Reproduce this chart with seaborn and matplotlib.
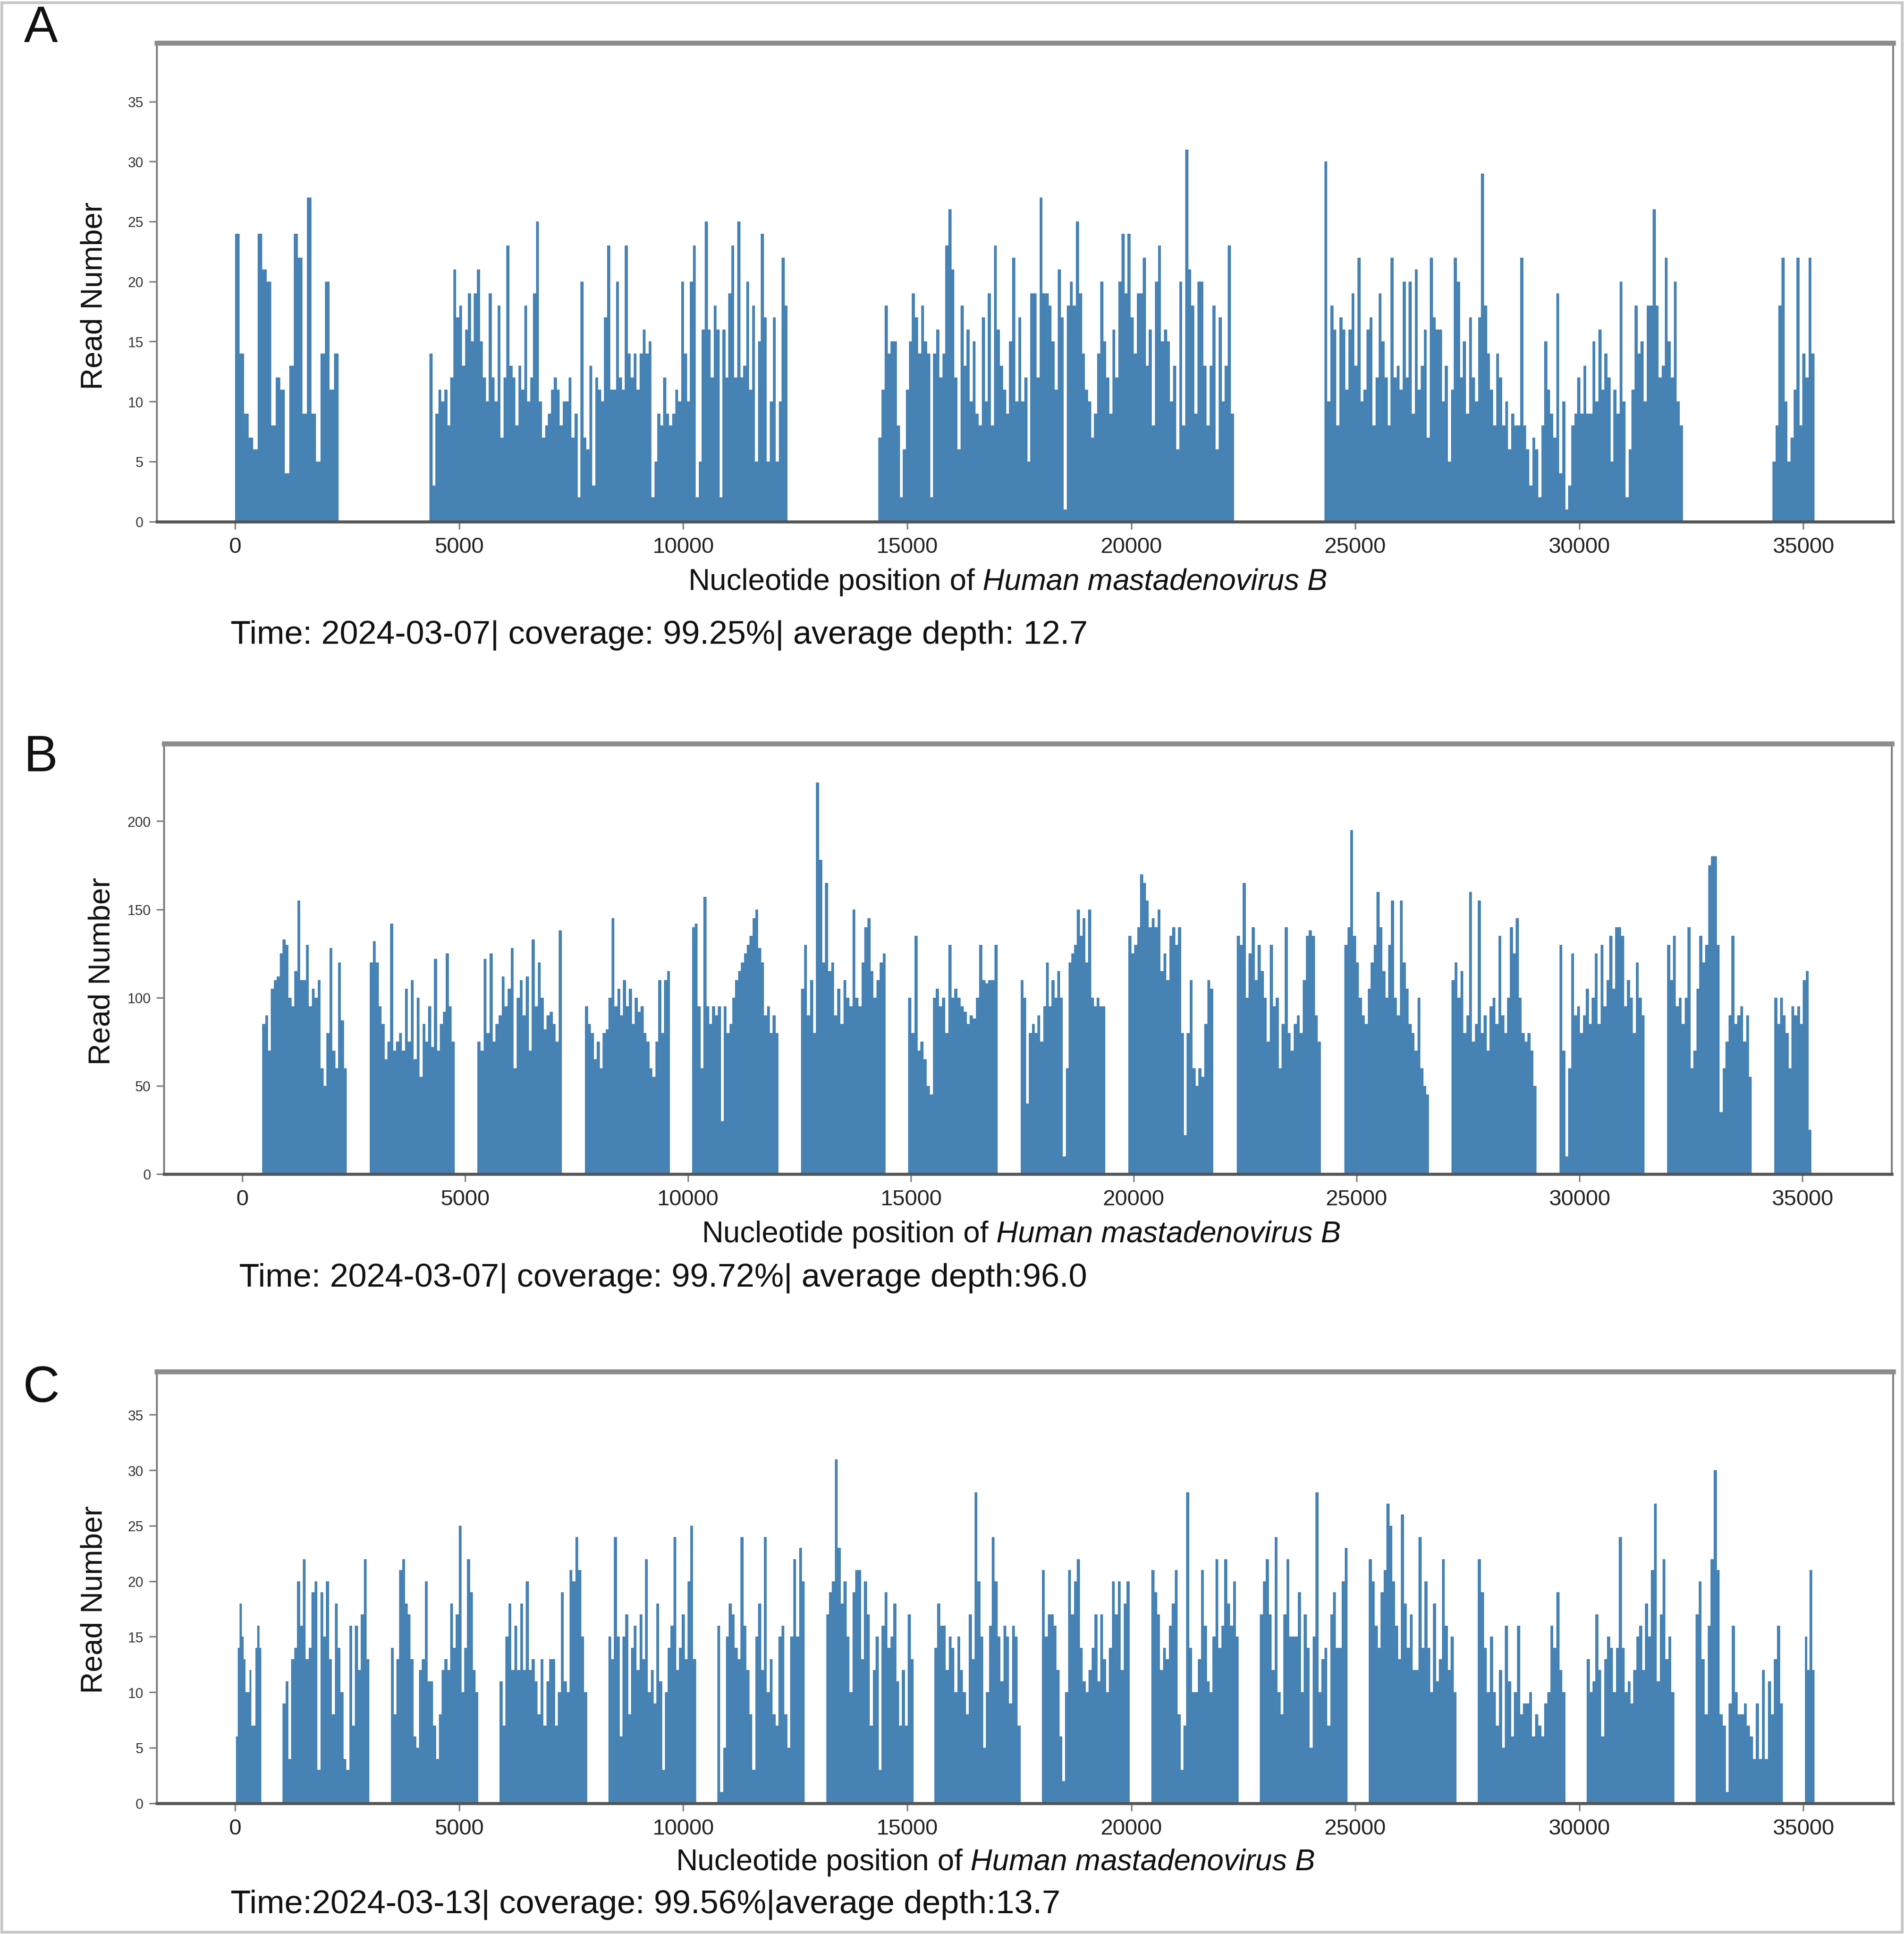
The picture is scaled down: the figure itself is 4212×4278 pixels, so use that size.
import numpy as np
import pandas as pd
import matplotlib
matplotlib.use("Agg")
import matplotlib.pyplot as plt
import matplotlib.patches as patches
import seaborn as sns

# ---- data: amplicon segments (start, end in nt) and read depth ----
a_starts = [0, 4340, 14360, 24310, 34310]
a_ends = [2310, 12330, 22290, 32310, 35250]
a_depth = [
    [24, 14, 9, 7, 6, 24, 21, 20, 8, 12, 11, 4, 13, 24, 22, 9, 27, 9, 5, 14, 20, 11, 14],
    [14, 3, 9, 11, 10, 11, 8, 12, 21, 17, 18, 13, 16, 19, 15, 19, 21, 15, 12, 10, 19, 12, 10, 18, 7,
     12, 23, 13, 12, 8, 13, 11, 18, 10, 12, 19, 25, 10, 7, 8, 9, 11, 12, 11, 8, 10, 10, 12, 7, 9,
     2, 20, 7, 6, 13, 3, 12, 11, 10, 17, 23, 11, 11, 20, 12, 11, 23, 14, 12, 14, 11, 14, 16, 14, 15,
     2, 5, 9, 8, 12, 9, 8, 9, 11, 10, 20, 14, 10, 20, 23, 2, 5, 16, 25, 16, 12, 18, 16, 2, 16,
     12, 19, 23, 12, 25, 12, 13, 20, 11, 18, 5, 15, 24, 17, 5, 10, 17, 5, 10, 22, 18],
    [7, 11, 18, 14, 15, 15, 8, 2, 6, 11, 15, 19, 17, 14, 18, 15, 14, 2, 14, 16, 12, 14, 23, 26, 21,
     12, 6, 18, 13, 16, 10, 15, 9, 8, 17, 10, 19, 8, 23, 16, 13, 11, 9, 15, 22, 10, 17, 10, 12, 5,
     19, 19, 12, 27, 19, 19, 18, 15, 11, 21, 17, 1, 18, 20, 18, 25, 19, 14, 11, 10, 7, 9, 14, 20, 15,
     12, 9, 16, 12, 20, 24, 19, 24, 17, 14, 19, 19, 22, 13, 16, 8, 20, 23, 15, 16, 15, 10, 13, 6, 20,
     8, 31, 21, 18, 9, 20, 20, 13, 8, 13, 18, 6, 17, 10, 13, 23, 9],
    [30, 10, 18, 16, 8, 17, 16, 11, 16, 19, 13, 22, 10, 11, 16, 17, 8, 12, 19, 15, 12, 8, 22, 12, 13,
     11, 20, 12, 20, 9, 21, 11, 13, 16, 7, 22, 17, 16, 16, 10, 13, 5, 11, 22, 20, 12, 15, 9, 17, 12,
     10, 17, 29, 18, 14, 11, 8, 14, 12, 8, 10, 6, 9, 8, 8, 22, 8, 6, 3, 7, 6, 2, 8, 15, 11,
     9, 7, 19, 4, 10, 1, 3, 8, 9, 12, 9, 13, 9, 9, 15, 10, 16, 11, 14, 12, 5, 11, 9, 20, 10,
     2, 6, 11, 18, 14, 15, 10, 18, 18, 26, 18, 12, 13, 22, 15, 12, 20, 10, 8],
    [5, 8, 18, 22, 10, 5, 7, 11, 22, 8, 14, 12, 22, 14],
]

b_starts = [450, 2865, 5280, 7690, 10090, 12535, 14940, 17460, 19880, 22310, 24725, 27130, 29550, 31965, 34370]
b_ends = [2350, 4765, 7170, 9600, 12030, 14435, 16945, 19360, 21780, 24195, 26625, 29030, 31460, 33865, 35200]
b_depth = [
    [85, 90, 70, 105, 110, 112, 125, 133, 130, 100, 95, 115, 155, 110, 110, 130, 95, 105, 100, 110, 60, 50, 80, 128, 70, 60, 120, 87, 60],
    [120, 132, 120, 95, 85, 65, 75, 142, 70, 75, 80, 70, 105, 75, 110, 65, 100, 55, 85, 75, 95, 72, 122, 70, 85, 92, 125, 95, 75],
    [75, 70, 122, 80, 125, 75, 85, 90, 112, 95, 105, 128, 60, 100, 110, 90, 112, 70, 133, 95, 120, 100, 82, 90, 92, 85, 75, 138],
    [95, 85, 80, 65, 75, 60, 80, 82, 100, 145, 95, 105, 90, 110, 95, 105, 85, 100, 92, 95, 80, 75, 60, 55, 75, 110, 80, 110, 115],
    [140, 142, 95, 60, 157, 95, 85, 95, 90, 95, 30, 95, 80, 85, 100, 110, 115, 120, 125, 130, 135, 145, 150, 128, 120, 90, 95, 80, 90, 80],
    [105, 130, 90, 110, 80, 222, 178, 120, 165, 115, 120, 90, 105, 85, 110, 100, 95, 150, 100, 95, 120, 140, 145, 115, 100, 110, 120, 125],
    [100, 80, 135, 70, 75, 65, 50, 45, 100, 105, 95, 100, 80, 130, 100, 105, 100, 95, 92, 85, 90, 88, 100, 130, 110, 108, 110, 110, 130],
    [110, 100, 40, 80, 85, 80, 90, 75, 95, 120, 95, 110, 100, 115, 100, 10, 60, 120, 125, 130, 150, 135, 145, 120, 150, 100, 95, 100, 95, 95],
    [135, 125, 130, 140, 170, 165, 155, 140, 145, 140, 150, 115, 125, 110, 135, 140, 130, 140, 80, 22, 80, 110, 60, 50, 60, 55, 85, 110, 105],
    [135, 130, 165, 100, 125, 140, 110, 130, 115, 100, 75, 130, 95, 100, 60, 85, 140, 80, 70, 85, 90, 80, 110, 135, 138, 135, 90, 75],
    [130, 140, 195, 135, 120, 100, 90, 85, 105, 120, 130, 160, 140, 115, 100, 130, 155, 100, 90, 155, 120, 105, 85, 80, 70, 100, 60, 50, 45],
    [110, 120, 100, 115, 80, 90, 160, 75, 85, 155, 80, 90, 70, 95, 100, 85, 135, 90, 80, 100, 140, 125, 145, 100, 80, 75, 80, 70, 50],
    [130, 70, 10, 60, 125, 90, 95, 80, 90, 105, 85, 100, 125, 85, 130, 95, 110, 135, 105, 140, 140, 135, 95, 110, 100, 80, 120, 100, 90],
    [130, 110, 135, 95, 100, 85, 100, 140, 60, 70, 105, 135, 120, 130, 175, 180, 180, 130, 35, 60, 75, 90, 135, 85, 90, 95, 75, 90, 55],
    [100, 85, 100, 90, 80, 60, 95, 90, 95, 85, 110, 115, 25],
]

c_starts = [15, 1060, 3475, 5905, 8330, 10760, 13190, 15605, 18005, 20450, 22875, 25305, 27735, 30165, 32595, 35040]
c_ends = [585, 3000, 5430, 7855, 10285, 12715, 15145, 17530, 19960, 22400, 24830, 27260, 29690, 32120, 34545, 35245]
c_depth = [
    [6, 14, 18, 15, 13, 10, 10, 12, 7, 7, 14, 16, 14],
    [9, 11, 4, 13, 14, 20, 16, 22, 13, 14, 19, 20, 3, 19, 15, 20, 13, 8, 18, 14, 10, 4, 3, 16, 7, 16, 12, 17, 22, 13],
    [14, 8, 13, 21, 22, 18, 17, 13, 6, 5, 12, 13, 20, 11, 11, 7, 4, 8, 12, 13, 12, 18, 14, 17, 25, 10, 14, 22, 19, 12, 10],
    [11, 7, 15, 18, 12, 16, 12, 18, 12, 20, 12, 13, 11, 8, 13, 7, 11, 13, 13, 7, 10, 19, 11, 10, 21, 20, 24, 21, 15, 10],
    [15, 13, 24, 15, 6, 15, 17, 8, 14, 16, 12, 17, 13, 22, 10, 12, 9, 18, 11, 3, 10, 14, 16, 24, 12, 14, 17, 13, 20, 25, 13],
    [16, 1, 5, 15, 18, 17, 14, 13, 24, 16, 12, 8, 3, 15, 18, 12, 24, 10, 13, 8, 7, 15, 16, 8, 5, 15, 22, 15, 23, 20],
    [17, 19, 20, 31, 23, 18, 20, 15, 10, 19, 21, 21, 13, 20, 17, 7, 12, 15, 3, 16, 19, 14, 15, 18, 11, 7, 12, 7, 17, 13],
    [14, 18, 16, 16, 12, 15, 14, 10, 15, 12, 10, 8, 17, 13, 28, 20, 15, 5, 10, 16, 24, 20, 15, 11, 16, 15, 9, 16, 15, 7],
    [21, 15, 17, 17, 16, 12, 6, 2, 10, 21, 17, 20, 22, 14, 11, 10, 12, 14, 17, 11, 17, 13, 10, 14, 20, 17, 20, 12, 18, 20],
    [21, 19, 17, 12, 14, 13, 16, 18, 21, 8, 3, 7, 28, 14, 10, 10, 13, 21, 16, 11, 10, 15, 22, 14, 16, 22, 18, 16, 20, 15],
    [17, 20, 22, 17, 12, 24, 10, 8, 17, 22, 15, 15, 15, 19, 10, 17, 14, 5, 15, 28, 10, 13, 14, 7, 17, 19, 14, 14, 20, 23],
    [22, 20, 16, 14, 19, 21, 27, 25, 20, 16, 13, 26, 18, 14, 17, 12, 12, 24, 14, 20, 14, 10, 18, 11, 13, 22, 16, 12, 15, 10],
    [22, 19, 14, 10, 15, 10, 7, 12, 5, 16, 11, 6, 10, 16, 8, 9, 9, 10, 6, 8, 7, 6, 9, 10, 16, 14, 19, 12, 10],
    [13, 10, 11, 17, 12, 6, 13, 15, 14, 10, 14, 24, 14, 10, 11, 9, 12, 15, 16, 12, 18, 15, 21, 27, 11, 17, 22, 13, 15, 10],
    [17, 20, 13, 8, 16, 22, 30, 21, 8, 7, 1, 9, 16, 10, 8, 8, 9, 7, 6, 4, 9, 4, 12, 4, 11, 8, 13, 16, 9],
    [15, 12, 21, 12],
]

panel_letters = ["A", "B", "C"]
captions = [
    "Time: 2024-03-07| coverage: 99.25%| average depth: 12.7",
    "Time: 2024-03-07| coverage: 99.72%| average depth:96.0",
    "Time:2024-03-13| coverage: 99.56%|average depth:13.7",
]
y_ticks = [list(range(0, 36, 5)), list(range(0, 201, 50)), list(range(0, 36, 5))]
y_tops = [39.9, 244, 38.9]
x_ticks = list(range(0, 35001, 5000))

sns.set_style("ticks")
plt.rcParams['font.family'] = ['Liberation Sans', 'DejaVu Sans']
plt.rcParams['mathtext.fontset'] = 'custom'
plt.rcParams['mathtext.rm'] = 'Liberation Sans'
plt.rcParams['mathtext.it'] = 'Liberation Sans:italic'

bar_color = "#4682b4"
spine_color = "#7f7f7f"

fig = plt.figure(figsize=(14.04, 14.263), dpi=300)
fig.patch.set_facecolor("white")

# axes rectangles in figure fraction
rects = [
    [0.0823, 0.7302, 0.9119, 0.2475],
    [0.0862, 0.3929, 0.9073, 0.2225],
    [0.0823, 0.0676, 0.9119, 0.2232],
]
xlabel_pos = [(0.490, -0.126), (0.496, -0.140), (0.483, -0.137)]
caption_pos = [(0.1212, 0.6716), (0.1257, 0.3393), (0.1212, 0.0153)]
letter_pos = [(0.0215, 0.9850), (0.0215, 0.6080), (0.0215, 0.2820)]

panels = [(a_starts, a_ends, a_depth), (b_starts, b_ends, b_depth), (c_starts, c_ends, c_depth)]

for i, (starts, ends, depth) in enumerate(panels):
    ax = fig.add_axes(rects[i])

    # one bar per value, spread evenly across its segment
    lefts, widths, heights = [], [], []
    for s, e, vals in zip(starts, ends, depth):
        seg_edges = np.linspace(s, e, len(vals) + 1)
        lefts.extend(seg_edges[:-1].tolist())
        widths.extend(np.diff(seg_edges).tolist())
        heights.extend(vals)
    df = pd.DataFrame({"pos": lefts, "width": widths, "depth": heights})

    ax.bar(df["pos"], df["depth"], width=df["width"], align="edge",
           color=bar_color, linewidth=0, edgecolor="none")

    ax.set_xlim(-1750, 37000)
    ax.set_ylim(0, y_tops[i])
    ax.set_xticks(x_ticks)
    ax.set_yticks(y_ticks[i])
    ax.tick_params(axis="x", labelsize=11.8, length=4, width=0.8, color=spine_color,
                   labelcolor="#222222", pad=4)
    ax.tick_params(axis="y", labelsize=7.5, length=4, width=0.8, color=spine_color,
                   labelcolor="#333333", pad=3)

    for side, sp in ax.spines.items():
        sp.set_visible(True)
        sp.set_color(spine_color)
        sp.set_linewidth(1.0)
    ax.spines["top"].set_linewidth(2.6)
    ax.spines["top"].set_color("#8c8c8c")
    ax.spines["bottom"].set_linewidth(1.6)
    ax.spines["bottom"].set_color("#555555")

    ax.set_ylabel("Read Number", fontsize=16, color="#111111")
    ax.yaxis.set_label_coords(-0.036, 0.472)
    ax.yaxis.label.set_va("center")

    ax.set_xlabel(r"Nucleotide position of $\it{Human\ mastadenovirus\ B}$", fontsize=15.9,
                  color="#111111")
    ax.xaxis.set_label_coords(*xlabel_pos[i])
    ax.xaxis.label.set_va("center")

    fig.text(caption_pos[i][0], caption_pos[i][1], captions[i], fontsize=17.6,
             ha="left", va="center", color="#111111")
    fig.text(letter_pos[i][0], letter_pos[i][1], panel_letters[i], fontsize=27,
             ha="center", va="center", color="#111111")

# light outer frame around the whole figure
fig.add_artist(patches.Rectangle((0.001, 0.001), 0.998, 0.9975, transform=fig.transFigure,
                                 fill=False, edgecolor="#c8c8c8", linewidth=1.5))

fig.savefig("out.png", dpi=300, facecolor="white")
